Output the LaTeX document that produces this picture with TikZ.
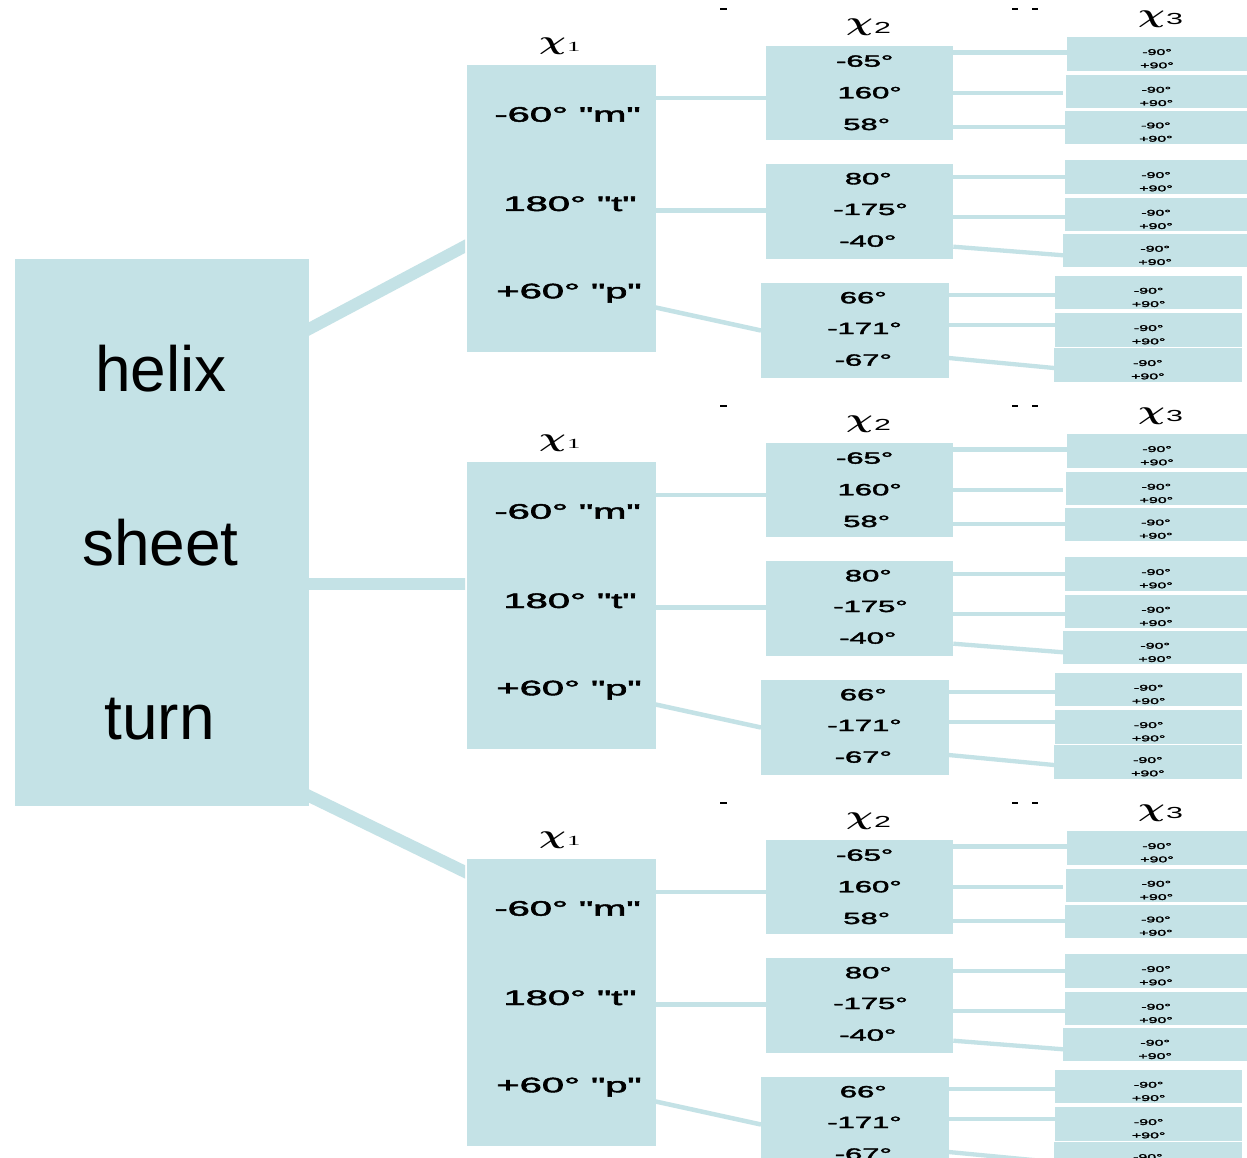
\documentclass[tikz,border=0pt]{standalone}
\usepackage{fontspec}
\usepackage{graphicx}
\newfontfamily\rotsans{Liberation Sans}
\newfontfamily\rotsansheavy[FakeBold=2]{Liberation Sans}
\newfontfamily\rotserif{Liberation Serif}
\definecolor{rotblue}{RGB}{196,226,230}
% all angle labels are set horizontally stretched
\newcommand\wide[1]{\scalebox{1.9}[1]{#1}}
% chi with its index
\newcommand\chimark[1]{\scalebox{1.5}[1.05]{\fontsize{24.88}{24.88}\selectfont\boldmath$\chi$}\kern1pt\scalebox{1.9}[1]{\raisebox{-2.5pt}{#1}}}
\tikzset{
  rotbox/.style={fill=rotblue, inner sep=0pt, outer sep=0pt, anchor=north west},
  trunk/.style={draw=rotblue, line width=12pt},
  branch/.style={draw=rotblue, line width=4.5pt},
  twig/.style={draw=rotblue, line width=4.3pt},
  classtxt/.style={anchor=base, inner sep=0pt, font=\rotsans\fontsize{64}{64}\selectfont},
  rowtxt/.style={anchor=base, inner sep=0pt, font=\rotsansheavy\fontsize{21}{21}\selectfont},
  midtxt/.style={anchor=base, inner sep=0pt, font=\rotsansheavy\fontsize{16.3}{16.3}\selectfont},
  leaftxt/.style={anchor=base, inner sep=0pt, font=\rotsansheavy\fontsize{8.4}{8.4}\selectfont},
  chitxt/.style={anchor=base west, inner sep=0pt},
  crumb/.style={draw=black, line width=1.2pt},
}
% one chi1 -> chi2 -> chi3 tree; #1 = vertical offset, #2 = name prefix
\newcommand\rotgroup[2]{%
\begin{scope}[shift={(0,#1)}]
  % chi1 column
  \node[chitxt] (#2c1) at (539,49.2) {\chimark{\rotserif\fontsize{14}{14}\selectfont 1}};
  \node[rotbox, minimum width=188.4pt, minimum height=286.7pt] (#2x1) at (467.3,65) {};
  \node[rowtxt] (#2m) at (567.5,121.7) {\wide{-60° "m"}};
  \node[rowtxt] (#2t) at (570,211) {\wide{180° "t"}};
  \node[rowtxt] (#2p) at (569,298.3) {\wide{+60° "p"}};
  % chi2 column
  \node[chitxt] (#2c2) at (846,30.9) {\chimark{\rotsans\fontsize{16}{16}\selectfont 2}};
  \node[rotbox, minimum width=187.6pt, minimum height=94.6pt] (#2ba) at (765.7,45.7) {};
  \node[rotbox, minimum width=187.6pt, minimum height=94.7pt] (#2bb) at (765.7,164.3) {};
  \node[rotbox, minimum width=187.7pt, minimum height=95pt] (#2bc) at (761,283.3) {};
  \node[midtxt] (#2a1) at (864.7,66.7) {\wide{-65°}};
  \node[midtxt] (#2a2) at (869.7,98.3) {\wide{160°}};
  \node[midtxt] (#2a3) at (866.7,130) {\wide{58°}};
  \node[midtxt] (#2b1) at (868.3,184.3) {\wide{80°}};
  \node[midtxt] (#2b2) at (870.5,215) {\wide{-175°}};
  \node[midtxt] (#2b3) at (867.8,246.7) {\wide{-40°}};
  \node[midtxt] (#2d1) at (863.3,303.3) {\wide{66°}};
  \node[midtxt] (#2d2) at (864.5,334) {\wide{-171°}};
  \node[midtxt] (#2d3) at (863.3,365.7) {\wide{-67°}};
  % chi3 column
  \node[chitxt] (#2c3) at (1138,22.2) {\chimark{\rotsans\fontsize{16}{16}\selectfont 3}};
  \foreach \i/\xl/\yt/\w in {1/1067/37.3/180, 2/1065.7/75/181.3, 3/1064.7/110.7/182.3,
      4/1065/160.3/182, 5/1065/198/182, 6/1063.3/234/183.7,
      7/1055/276/187.3, 8/1055/313.3/187.3, 9/1054/348.3/187.7}{
    \node[rotbox, minimum width=\w pt, minimum height=33.4pt] (#2l\i) at (\xl,\yt) {};
    \node[leaftxt] (#2l\i m) at ([yshift=-17.7pt]#2l\i.north) {\wide{-90°}};
    \node[leaftxt] (#2l\i p) at ([yshift=-31pt]#2l\i.north) {\wide{+90°}};
  }
  % chi1 -> chi2
  \draw[branch] (#2x1.east |- 0,98) -- (#2ba.west |- 0,98);
  \draw[branch] (#2x1.east |- 0,210.5) -- (#2bb.west |- 0,210.5);
  \draw[branch] (#2x1.east |- 0,307.5) -- (#2bc.west |- 0,330.5);
  % chi2 -> chi3
  \draw[twig] (#2ba.east |- 0,52.5) -- (#2l1.west |- 0,52.5);
  \draw[twig, shorten >=2.4pt] (#2ba.east |- 0,93) -- (#2l2.west |- 0,93);
  \draw[twig] (#2ba.east |- 0,127) -- (#2l3.west |- 0,127);
  \draw[twig] (#2bb.east |- 0,177) -- (#2l4.west |- 0,177);
  \draw[twig] (#2bb.east |- 0,217) -- (#2l5.west |- 0,217);
  \draw[twig] (#2bb.east |- 0,246.7) -- (#2l6.west |- 0,255.3);
  \draw[twig] (#2bc.east |- 0,295) -- (#2l7.west |- 0,295);
  \draw[twig] (#2bc.east |- 0,324.7) -- (#2l8.west |- 0,324.7);
  \draw[twig] (#2bc.east |- 0,358) -- (#2l9.west |- 0,368);
  % stray marks above the header row
  \draw[crumb] (720,9) -- (727,9);
  \draw[crumb] (1012,9) -- (1018,9);
  \draw[crumb] (1032,9) -- (1038,9);
\end{scope}}

\begin{document}
\begin{tikzpicture}[x={(1pt,0)}, y={(0,-1pt)}]
  \useasboundingbox (0,0) rectangle (1247,1158);
  \fill[white] (0,0) rectangle (1247,1158);
  \clip (0,0) rectangle (1247,1158);
  % secondary-structure classes
  \node[rotbox, minimum width=294pt, minimum height=547pt] (root) at (15,259) {};
  \node[classtxt] (helix) at (161,391) {helix};
  \node[classtxt] (sheet) at (160.5,565) {sheet};
  \node[classtxt] (turn) at (159.7,739.6) {turn};
  % the three rotamer trees
  \rotgroup{0}{g1}
  \rotgroup{397}{g2}
  \rotgroup{794}{g3}
  % trunks from the class box, cut square at the tree side
  \begin{scope}
    \clip (0,0) rectangle (465,1158);
    \draw[trunk, shorten <=-6pt, shorten >=-6pt] (root.east |- 0,329) -- (g1x1.west |- 0,245);
    \draw[trunk] (root.east |- 0,583.5) -- (g2x1.west |- 0,583.5);
    \draw[trunk, shorten <=-6pt, shorten >=-6pt] (root.east |- 0,796) -- (g3x1.west |- 0,873);
  \end{scope}
\end{tikzpicture}
\end{document}
